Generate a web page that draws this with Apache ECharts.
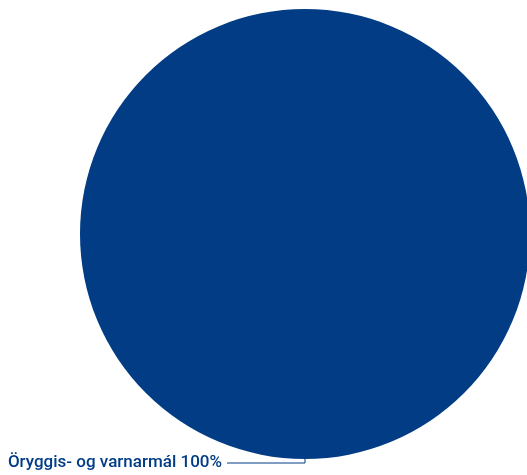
<!DOCTYPE html>
<html>
<head>
<meta charset="utf-8">
<script src="https://cdn.jsdelivr.net/npm/echarts@6/dist/echarts.min.js"></script>
<style>
  html, body { margin: 0; padding: 0; background: #fff; }
  #chart { width: 527px; height: 475px; }
</style>
</head>
<body>
<div id="chart"></div>
<script>
// flokkar og hlutföll
const categories = ['Öryggis- og varnarmál'];
const values = [100];

const chart = echarts.init(document.getElementById('chart'));

let pieData = categories.map(function (name, i) {
    return { name: name, value: values[i] };
});

let option = {
    animation: false,
    series: [
        {
            type: 'pie',
            center: [305, 234],
            radius: 225,
            data: pieData,
            itemStyle: { color: '#013c85' },
            label: {
                show: true,
                formatter: '{b} {d}%',
                color: '#013c85',
                fontFamily: 'Roboto',
                fontWeight: 500,
                fontSize: 17,
                overflow: 'none',
                edgeDistance: 0
            },
            labelLine: {
                show: true,
                length: 4,
                length2: 78,
                lineStyle: { color: '#013c85', width: 1 }
            }
        }
    ]
};
chart.setOption(option);
</script>
</body>
</html>
